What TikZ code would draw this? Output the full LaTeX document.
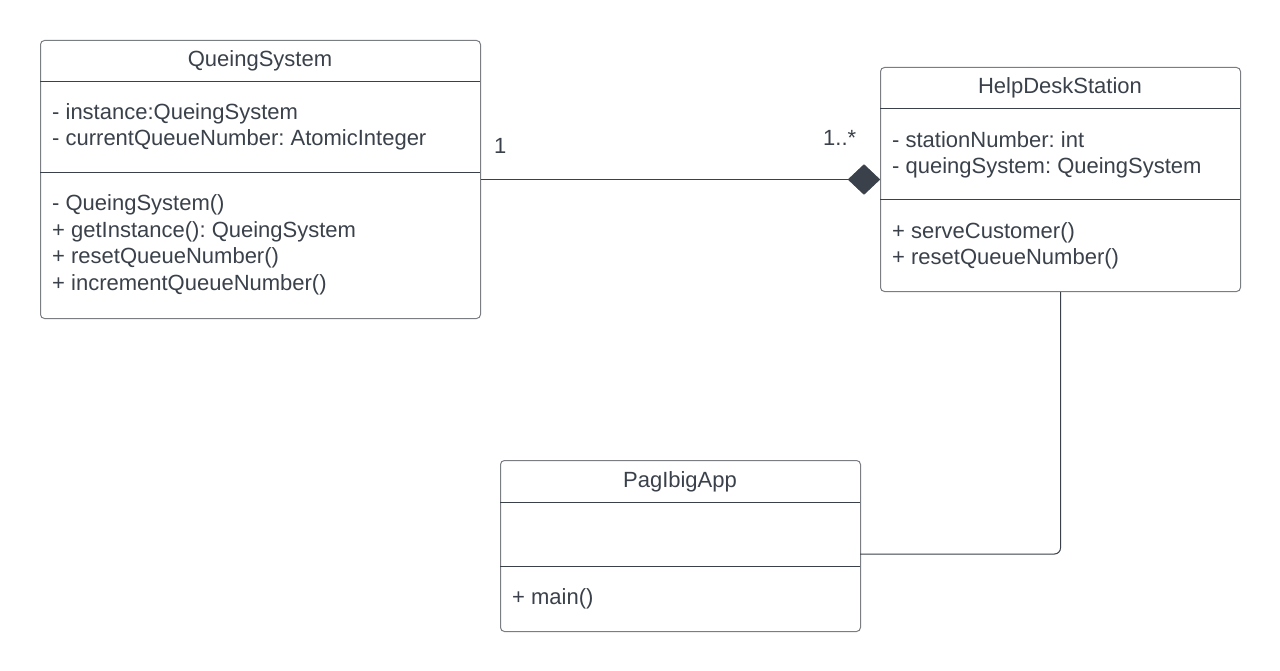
\documentclass[tikz,border=0pt]{standalone}
\usepackage{fontspec}
\setmainfont{Liberation Sans}
\usetikzlibrary{shapes.geometric}
\definecolor{ink}{HTML}{3A414A}
\definecolor{frame}{HTML}{7A7D82}
\frenchspacing
\begin{document}
\begin{tikzpicture}[x=1pt,y=-1pt,
  box/.style={draw=frame,line width=1pt,rounded corners=4pt,anchor=north west,inner sep=0pt,fill=white},
  txt/.style={anchor=base west,inner sep=0pt,text=ink,font=\fontsize{22}{26}\selectfont},
  ttl/.style={anchor=base,inner sep=0pt,text=ink,font=\fontsize{22}{26}\selectfont},
  divider/.style={draw=ink,line width=1pt},
  conn/.style={draw=ink,line width=1pt}]
\useasboundingbox[fill=white] (0,0) rectangle (1280,671);

% QueingSystem
\node[box,minimum width=440pt,minimum height=278pt] (qs) at (40,40) {};
\draw[divider] (40,82) -- (480,82);
\draw[divider] (40,173) -- (480,173);
\node[ttl] (qst) at (260,67) {QueingSystem};
\node[txt] (qsa1) at (52,120) {- instance:QueingSystem};
\node[txt] (qsa2) at (52,146) {- currentQueueNumber: AtomicInteger};
\node[txt] (qsm1) at (52,211) {- QueingSystem()};
\node[txt] (qsm2) at (52,237.5) {+ getInstance(): QueingSystem};
\node[txt] (qsm3) at (52,264) {+ resetQueueNumber()};
\node[txt] (qsm4) at (52,290.5) {+ incrementQueueNumber()};

% HelpDeskStation
\node[box,minimum width=360pt,minimum height=224pt] (hds) at (880,67) {};
\draw[divider] (880,109) -- (1240,109);
\draw[divider] (880,200) -- (1240,200);
\node[ttl] (hdst) at (1060,93.5) {HelpDeskStation};
\node[txt] (hdsa1) at (892,148) {- stationNumber: int};
\node[txt] (hdsa2) at (892,174) {- queingSystem: QueingSystem};
\node[txt] (hdsm1) at (892,239) {+ serveCustomer()};
\node[txt] (hdsm2) at (892,265) {+ resetQueueNumber()};

% PagIbigApp
\node[box,minimum width=360pt,minimum height=171pt] (pia) at (500,460) {};
\draw[divider] (500,502) -- (860,502);
\draw[divider] (500,566) -- (860,566);
\node[ttl] (piat) at (680,487) {PagIbigApp};
\node[txt] (piam1) at (512,604) {+ main()};

% composition
\node[diamond,draw=ink,fill=ink,inner sep=0pt,minimum width=32pt,minimum height=30pt] (dia) at (864,179.5) {};
\draw[conn] (qs.east) -- (dia.west);
\node[txt] (m1) at (494,154) {1};
\node[txt] (m2) at (823,146) {1..*};

% association
\coordinate (pj) at (860,554);
\draw[conn,rounded corners=6pt] (hds.south) |- (pj);
\end{tikzpicture}
\end{document}
